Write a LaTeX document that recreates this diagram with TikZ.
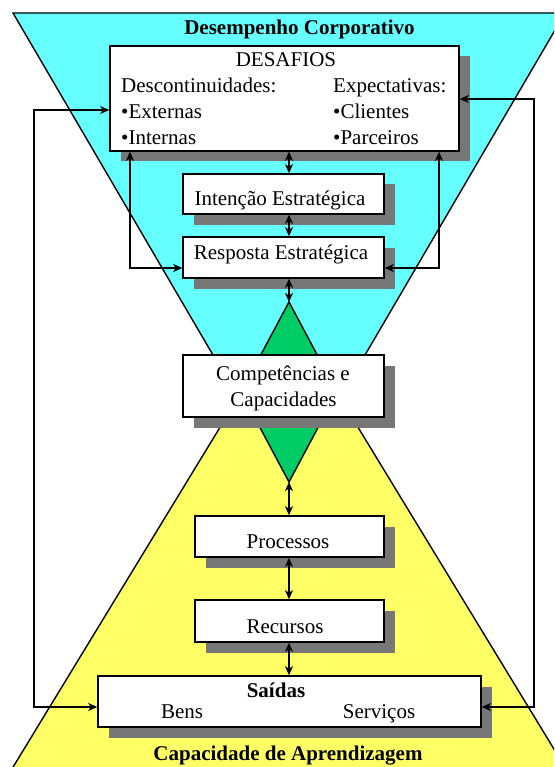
\documentclass[tikz,border=0pt]{standalone}
\usepackage{fontspec}
\setmainfont{Liberation Serif}
\usetikzlibrary{arrows.meta,shadows,calc}
\definecolor{cyanf}{HTML}{66FFFF}
\definecolor{yelf}{HTML}{FFFF66}
\definecolor{grnf}{HTML}{00CC66}
\definecolor{shd}{HTML}{777777}
\begin{document}
\begin{tikzpicture}[x=1pt,y=-1pt,
  box/.style={draw=black, line width=1.6pt, fill=white, inner sep=0pt,
    drop shadow={shadow xshift=10.5pt, shadow yshift=-10.5pt, fill=shd, opacity=1}},
  txt/.style={inner sep=0pt, anchor=base, font=\fontsize{21}{25}\selectfont},
  txtl/.style={txt, anchor=base west},
  bold/.style={txt, font=\fontsize{21}{25}\selectfont\bfseries},
  edge/.style={draw=black, line width=1.4pt, line join=miter},
  arr/.style={line width=1.3pt, >={Stealth[length=9pt,width=8pt,inset=2.5pt]}, <->}]
\useasboundingbox (0,0) rectangle (554,767);
\clip (0,0) rectangle (554,767);
% background shapes
\draw[edge, fill=cyanf] (13,13) -- (565,13) -- (289,485) -- cycle;
\draw[edge, fill=yelf] (289,314) -- (-7,800) -- (585,800) -- cycle;
\coordinate (dtop) at (289,302);
\coordinate (dright) at (337,392);
\coordinate (dbot) at (289,482);
\coordinate (dleft) at (241,392);
\draw[edge, fill=grnf] (dtop) -- (dright) -- (dbot) -- (dleft) -- cycle;
% titles
\node[bold] (t1) at (299.5,35) {Desempenho Corporativo};
\node[bold] (t2) at (288,760) {Capacidade de Aprendizagem};
% boxes
\node[box, minimum width=349pt, minimum height=105pt] (des) at (284.5,98.5) {};
\node[box, minimum width=201pt, minimum height=40pt] (int) at (283.5,194) {};
\node[box, minimum width=201pt, minimum height=41pt] (res) at (283.5,257.5) {};
\node[box, minimum width=201pt, minimum height=62pt] (comp) at (283.5,386) {};
\node[box, minimum width=189pt, minimum height=41pt] (proc) at (289.5,536.5) {};
\node[box, minimum width=189pt, minimum height=42pt] (rec) at (289.5,621) {};
\node[box, minimum width=383pt, minimum height=51pt] (sai) at (289.5,701.5) {};
% texts
\node[txt] (desT) at (286,67) {DESAFIOS};
\node[txtl] (d1) at (121,93) {Descontinuidades:};
\node[txtl] (d2) at (121,119) {•Externas};
\node[txtl] (d3) at (121,145) {•Internas};
\node[txtl] (e1) at (333,93) {Expectativas:};
\node[txtl] (e2) at (333,119) {•Clientes};
\node[txtl] (e3) at (333,145) {•Parceiros};
\node[txt] (intT) at (280,205) {Intenção Estratégica};
\node[txt] (resT) at (281,259) {Resposta Estratégica};
\node[txt] (compT1) at (283,380) {Competências e};
\node[txt] (compT2) at (283.5,406) {Capacidades};
\node[txt] (procT) at (288,548) {Processos};
\node[txt] (recT) at (285,633) {Recursos};
\node[bold] (saiT) at (276,697) {Saídas};
\node[txt] (bens) at (182,718) {Bens};
\node[txt] (serv) at (379,718) {Serviços};
% connectors
\coordinate (cx) at (289,0);
\draw[arr] (des.south -| cx) -- (int.north -| cx);
\draw[arr] (int.south -| cx) -- (res.north -| cx);
\draw[arr] (res.south -| cx) -- (dtop);
\draw[arr] (dbot) -- (proc.north -| cx);
\draw[arr] (proc.south -| cx) -- (rec.north -| cx);
\draw[arr] (rec.south -| cx) -- (sai.north -| cx);
\coordinate (lx) at (130,268);
\coordinate (rx) at (439,268);
\draw[arr] (des.south -| lx) |- (res.west |- lx);
\draw[arr] (des.south -| rx) |- (res.east |- rx);
\coordinate (bl1) at (34,110);
\coordinate (bl2) at (34,707);
\coordinate (br1) at (534,99);
\coordinate (br2) at (534,707);
\draw[arr] (des.west |- bl1) -- (bl1) -- (bl2) -- (sai.west |- bl2);
\draw[arr] (des.east |- br1) -- (br1) -- (br2) -- (sai.east |- br2);
\end{tikzpicture}
\end{document}
